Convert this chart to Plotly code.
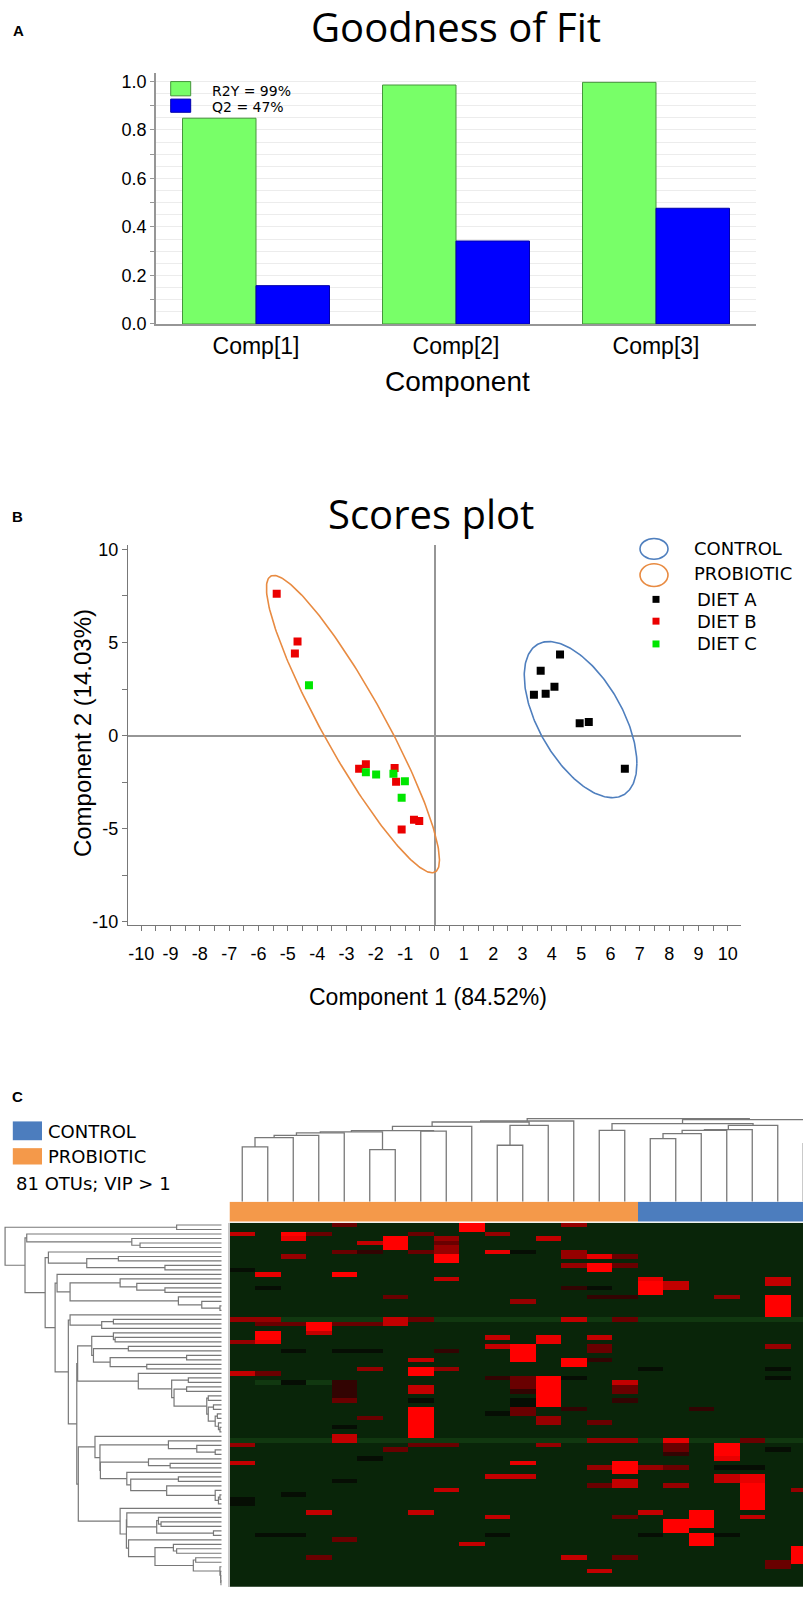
import numpy as np
import plotly.graph_objects as go

W, H = 803, 1597

# ---------------- Panel A : Goodness of fit ----------------
components = ["Comp[1]", "Comp[2]", "Comp[3]"]
r2y_values = [0.848, 0.985, 0.996]
q2_values = [0.158, 0.342, 0.477]
legend_a = ["R2Y = 99%", "Q2 = 47%"]

# ---------------- Panel B : Scores plot ----------------
dietA_x = [3.39, 3.62, 3.79, 4.09, 4.28, 4.95, 5.26, 6.49]
dietA_y = [2.20, 3.48, 2.25, 2.62, 4.36, 0.66, 0.73, -1.78]
dietB_x = [-5.38, -4.67, -4.76, -2.57, -2.34, -1.36, -1.31, -0.70, -0.52, -1.12]
dietB_y = [7.62, 5.05, 4.41, -1.78, -1.54, -1.74, -2.47, -4.52, -4.58, -5.04]
dietC_x = [-4.28, -2.34, -1.99, -1.40, -1.01, -1.12]
dietC_y = [2.71, -1.96, -2.09, -2.05, -2.45, -3.33]
diet_names = ["DIET A", "DIET B", "DIET C"]
group_names = ["CONTROL", "PROBIOTIC"]
ellipse_cx = [4.98, -2.78]
ellipse_cy = [0.86, 0.62]
ellipse_ax = [1.92, 2.95]
ellipse_ay = [4.19, 7.98]
ellipse_phase_deg = [124.3, 156.1]

# ---------------- Panel C : heatmap ----------------
column_groups = [0] * 16 + [1] * 8          # 0 = PROBIOTIC, 1 = CONTROL
n_otus = 81
heat_rows = [
    "4:5 9:9 13:6", "9:9", "0:7 2:9 3:5 7:5 10:6", "2:8 6:9 8:6 12:7", "5:7 6:9 8:5",
    "6:9 8:6", "4:5 5:4 7:5 8:6 10:8 11:3 13:6", "2:6 8:9 13:6 14:8 15:5", "8:9",
    "13:6 14:9 15:5", "0:3 14:9", "1:8 4:9", "8:7 16:8 21:7", "16:9 17:7 21:7",
    "1:3 13:4 14:3 16:9 17:7", "16:9", "6:5 14:4 15:4 19:6 21:9", "11:6 21:9", "21:9",
    "21:9", "21:9", "b 0:6 1:6 6:7 7:5 13:7 15:5", "1:5 2:5 3:9 4:5 5:5 6:7", "3:9",
    "1:9 3:7", "1:9 10:7 12:8 14:7", "0:6 1:8 12:8", "10:7 11:9 14:5 21:6",
    "2:3 4:3 5:3 8:4 11:9 14:5", "11:9", "7:7 11:9 13:9 14:4", "13:9",
    "5:6 7:9 8:6 16:3 21:3", "0:7 1:5 7:9", "10:4 11:5 12:9 13:3 21:3",
    "1:1 2:3 3:1 4:4 11:5 12:9 15:7", "4:4 7:7 11:5 12:9 15:5", "4:4 7:7 11:4 12:9 15:5",
    "4:4 12:9", "4:5 7:3 11:3 12:9 15:4", "11:3 12:9", "7:9 11:5 13:4 18:4",
    "7:9 10:3 11:5", "5:5 7:9 12:6", "7:9 12:6 14:5", "4:3 7:9", "7:9", "4:7 7:9",
    "b 4:7 14:6 15:6 17:8 20:5", "0:6 7:5 8:5 12:6 17:5 19:9", "6:5 17:5 19:9 21:3",
    "17:4 19:9", "5:3 19:8", "0:7 11:8 15:9", "14:6 15:9 16:6 17:5 19:3 20:3", "15:9",
    "10:7 11:7 19:7 20:8", "4:3 15:7 19:7 20:8", "14:5 15:7 17:6 20:9", "8:7 20:9 22:6",
    "2:3 20:9", "0:3 20:9", "0:3 20:9", "20:9", "3:7 7:7 16:7 18:9", "10:7 15:5 18:9 20:7",
    "17:9 18:9", "17:9 18:9", "17:9", "1:3 2:3 10:3 16:3 18:9 19:3", "4:5 18:9", "9:7 18:9",
    "22:9", "22:9", "3:5 13:7 15:5 22:9", "21:5 22:9", "21:5", "14:7", "", "", "",
]

# dendrograms: (distance, left, right), leaves are indices
col_tree = (1.0,
            (0.972,
             (0.96,
              (0.908,
               (0.856,
                (0.84,
                 (0.828, (0.80, (0.772, (0.66, 0, 1), 2), 3), 4),
                 (0.628, 5, 6)),
                (0.85, 7, 8)),
               9),
              (0.92, (0.68, 10, 11), 12)),
             13),
            (0.988,
             (0.94, (0.86, 14, 15),
              (0.92, (0.868, (0.86, (0.82, (0.76, 16, 17), 18), 19), 20), 21)),
             (0.70, 22, 23)))

row_F1 = (0.60, (0.50, 24, (0.492, 25, 26)),
          (0.592, (0.431, 27, 28), (0.515, (0.162, 29, 30), (0.346, 31, 32))))
row_F2 = (0.385, 33, (0.231, (0.154, 34, 35),
                      (0.22, (0.162, 36, 37),
                       (0.069, (0.062, 38, 39),
                        (0.062, (0.038, 40, 41),
                         (0.03, (0.02, 42, 43), (0.015, 44, (0.008, 45, 46))))))))
row_F3 = (0.585, 47, (0.562, (0.246, 48, (0.115, 49, (0.03, 50, 51))),
                      (0.56, (0.338, 52, (0.238, 53, 54)),
                       (0.438, 55, (0.42, (0.2, 56, 57),
                                    (0.254, 58, (0.03, 59, (0.015, (0.008, 60, 61), 62))))))))
row_F4 = (0.469, 63, (0.44, (0.438, 64, (0.30, (0.292, 65, (0.28, 66, 67)), (0.038, 68, 69))),
                      (0.43, 70, (0.308, (0.223, 71, (0.208, 72, 73)),
                                  (0.131, (0.12, 74, 75),
                                   (0.008, 76, (0.005, 77, (0.004, 78, (0.003, 79, 80)))))))))
row_tree = (1.0, (0.208, 0, 1),
            (0.908, (0.90, 2, (0.415, 3, (0.377, 4, 5))),
             (0.815, (0.80, 6, (0.623, (0.477, 7, 8), (0.262, 9, 10))),
              (0.769, (0.76, 11, (0.70, (0.469, 12, (0.392, 13, (0.262, 14, 15))),
                                  (0.20, 16, (0.092, 17, (0.008, 18, 19))))),
               (0.708, (0.70, 20, (0.554, (0.50, 21, 22), 23)),
                (0.669, (0.665, row_F1, row_F2), (0.662, row_F3, row_F4)))))))

# ---------------- helpers ----------------
def xd(a, b):
    return [a / W, b / W]

def yd(top, bottom):
    return [1 - bottom / H, 1 - top / H]

def PX(x):
    return x / W

def PY(y):
    return 1 - y / H

def tree_lines(node):
    pos_list, h_list = [], []
    def rec(n):
        if isinstance(n, int):
            return float(n), 0.0
        d, a, b = n
        pa, ha = rec(a)
        pb, hb = rec(b)
        pos_list.extend([pa, pa, pb, pb, None])
        h_list.extend([ha, d, d, hb, None])
        return (pa + pb) / 2, d
    rec(node)
    return pos_list, h_list

TICK_FONT = "Liberation Sans, Arial, sans-serif"
TITLE_FONT = "Open Sans, sans-serif"
LEG_FONT = "DejaVu Sans, Verdana, sans-serif"

fig = go.Figure()

# ---- Panel A bars
fig.add_trace(go.Bar(x=components, y=r2y_values, name=legend_a[0],
                     marker=dict(color="rgb(120,255,104)", line=dict(color="rgb(70,150,60)", width=1)),
                     xaxis="x", yaxis="y"))
fig.add_trace(go.Bar(x=components, y=q2_values, name=legend_a[1],
                     marker=dict(color="rgb(0,0,255)", line=dict(color="rgb(0,0,170)", width=1)),
                     xaxis="x", yaxis="y"))

# ---- Panel B ellipses and points
ell_colors = ["rgb(79,127,190)", "rgb(232,139,66)"]
t = np.linspace(0, 2 * np.pi, 240)
for i in range(2):
    ph = np.deg2rad(ellipse_phase_deg[i])
    ex = ellipse_cx[i] + ellipse_ax[i] * np.cos(t)
    ey = ellipse_cy[i] + ellipse_ay[i] * np.cos(t + ph)
    fig.add_trace(go.Scatter(x=ex, y=ey, mode="lines", line=dict(color=ell_colors[i], width=1.6),
                             name=group_names[i], xaxis="x2", yaxis="y2"))
diet_colors = ["black", "rgb(235,0,0)", "rgb(0,230,0)"]
for xs, ys, c, nm in [(dietA_x, dietA_y, diet_colors[0], diet_names[0]),
                      (dietB_x, dietB_y, diet_colors[1], diet_names[1]),
                      (dietC_x, dietC_y, diet_colors[2], diet_names[2])]:
    fig.add_trace(go.Scatter(x=xs, y=ys, mode="markers", name=nm,
                             marker=dict(symbol="square", size=8, color=c, line=dict(width=0)),
                             xaxis="x2", yaxis="y2"))

# ---- Panel C heatmap
n_cols = len(column_groups)
z = np.full((n_otus, n_cols), 2.0)
for r, spec in enumerate(heat_rows):
    for tok in spec.split():
        if tok == "b":
            z[r, :] = 1.0
    for tok in spec.split():
        if tok != "b":
            c, v = tok.split(":")
            z[r, int(c)] = float(v)

heat_scale = [
    [0 / 9, "rgb(22,70,22)"], [1 / 9, "rgb(17,56,16)"], [2 / 9, "rgb(9,37,9)"],
    [3 / 9, "rgb(6,14,4)"], [4 / 9, "rgb(50,4,2)"], [5 / 9, "rgb(105,0,0)"],
    [6 / 9, "rgb(150,0,0)"], [7 / 9, "rgb(195,0,0)"], [8 / 9, "rgb(232,0,0)"],
    [9 / 9, "rgb(255,0,0)"],
]
fig.add_trace(go.Heatmap(z=z, x=list(range(n_cols)), y=list(range(n_otus)), zmin=0, zmax=9,
                         colorscale=heat_scale, showscale=False, xaxis="x3", yaxis="y3"))
fig.add_trace(go.Heatmap(z=[column_groups], x=list(range(n_cols)), y=[0], zmin=0, zmax=1,
                         colorscale=[[0, "rgb(244,153,74)"], [1, "rgb(76,125,190)"]],
                         showscale=False, xaxis="x3", yaxis="y4"))

cx_, cy_ = tree_lines(col_tree)
fig.add_trace(go.Scatter(x=cx_, y=cy_, mode="lines", line=dict(color="rgb(120,120,120)", width=1.3),
                         xaxis="x3", yaxis="y5", hoverinfo="skip"))
ry_, rx_ = tree_lines(row_tree)
fig.add_trace(go.Scatter(x=rx_, y=ry_, mode="lines", line=dict(color="rgb(120,120,120)", width=1.2),
                         xaxis="x4", yaxis="y3", hoverinfo="skip"))

# ---------------- layout ----------------
a_ticks = [round(0.1 * i, 2) for i in range(11)]
a_text = ["%.1f" % v if i % 2 == 0 else "" for i, v in enumerate(a_ticks)]
b_xticks = [v / 2 for v in range(-20, 21)]
b_xtext = [str(int(v)) if v == int(v) else "" for v in b_xticks]
b_yticks = [-10, -7.5, -5, -2.5, 0, 2.5, 5, 7.5, 10]
b_ytext = ["-10", "", "-5", "", "0", "", "5", "", "10"]

fig.update_layout(
    width=W, height=H, margin=dict(l=0, r=0, t=0, b=0),
    paper_bgcolor="white", plot_bgcolor="white", showlegend=False,
    barmode="group", bargap=0.265, bargroupgap=0,
    xaxis=dict(domain=xd(156, 756), anchor="y", type="category", range=[-0.5, 2.5],
               showline=True, linecolor="rgb(150,150,150)", linewidth=1.5, ticks="",
               tickfont=dict(family=TICK_FONT, size=23, color="black"), ticklabelstandoff=1,
               showgrid=False, fixedrange=True),
    yaxis=dict(domain=yd(69, 322), anchor="x", range=[0, 1.033], tickvals=a_ticks, ticktext=a_text,
               showline=True, linecolor="rgb(150,150,150)", linewidth=1.5, ticks="outside",
               ticklen=4, tickcolor="rgb(150,150,150)",
               tickfont=dict(family=TICK_FONT, size=18, color="black"),
               showgrid=True, gridcolor="rgb(236,236,236)", gridwidth=1, zeroline=False,
               minor=dict(tickvals=[round(0.05 + 0.1 * i, 3) for i in range(10)], showgrid=True,
                          gridcolor="rgb(236,236,236)", ticks="")),
    xaxis2=dict(domain=xd(128, 741), anchor="y2", range=[-10.45, 10.45], tickvals=b_xticks,
                ticktext=b_xtext, ticks="outside", ticklen=5, tickcolor="rgb(120,120,120)",
                showline=True, linecolor="rgb(120,120,120)", linewidth=1.3,
                tickfont=dict(family=TICK_FONT, size=18, color="black"), ticklabelstandoff=7,
                showgrid=False, zeroline=True, zerolinecolor="rgb(150,150,150)", zerolinewidth=1.5),
    yaxis2=dict(domain=yd(545, 929), anchor="x2", range=[-10.18, 10.24], tickvals=b_yticks,
                ticktext=b_ytext, ticks="outside", ticklen=5, tickcolor="rgb(120,120,120)",
                showline=True, linecolor="rgb(120,120,120)", linewidth=1.3,
                tickfont=dict(family=TICK_FONT, size=18, color="black"),
                showgrid=False, zeroline=True, zerolinecolor="rgb(150,150,150)", zerolinewidth=1.5),
    xaxis3=dict(domain=xd(229.5, 803), anchor="y3", range=[-0.5, 21.99], visible=False),
    yaxis3=dict(domain=yd(1229.3, 1597), anchor="x3", range=[80.5, -0.5], showticklabels=False,
                ticks="", showgrid=False, zeroline=False, showline=True,
                linecolor="rgb(200,200,200)", linewidth=2),
    yaxis4=dict(domain=yd(1208, 1228.3), anchor="x3", range=[-0.5, 0.5], visible=False),
    yaxis5=dict(domain=yd(1123, 1208), anchor="x3", range=[0, 1.015], visible=False),
    xaxis4=dict(domain=xd(4, 221.7), anchor="y3", range=[1.005, 0], visible=False),
)

ann = []
def text(x, y, s, size, family=TICK_FONT, xanchor="center", yanchor="middle", bold=False, angle=0):
    ann.append(dict(x=PX(x), y=PY(y), xref="paper", yref="paper", text=("<b>%s</b>" % s) if bold else s,
                    showarrow=False, xanchor=xanchor, yanchor=yanchor, textangle=angle,
                    font=dict(family=family, size=size, color="black")))

text(18, 26, "A", 15, family="Liberation Sans, Arial", bold=True)
text(456, 22, "Goodness of Fit", 40, family=TITLE_FONT)
text(458, 380, "Component", 28)
text(210, 86.7, legend_a[0], 14, family=LEG_FONT, xanchor="left")
text(210, 103, legend_a[1], 14, family=LEG_FONT, xanchor="left")

text(17, 516, "B", 15, family="Liberation Sans, Arial", bold=True)
text(431, 513, "Scores plot", 40, family=TITLE_FONT)
text(428, 1001, "Component 1 (84.52%)", 23)
text(82, 735, "Component 2 (14.03%)", 24, angle=-90)
text(692, 549, group_names[0], 18, family=LEG_FONT, xanchor="left")
text(692, 574, group_names[1], 18, family=LEG_FONT, xanchor="left")
for i, yy in enumerate([600, 622, 645]):
    text(695, yy, diet_names[i], 18, family=LEG_FONT, xanchor="left")

text(17, 1102, "C", 15, family="Liberation Sans, Arial", bold=True)
text(46, 1137, group_names[0], 18, family=LEG_FONT, xanchor="left")
text(46, 1162, group_names[1], 18, family=LEG_FONT, xanchor="left")
text(14, 1190, "%d OTUs; VIP &gt; 1" % n_otus, 18, family=LEG_FONT, xanchor="left")

shapes = []
def rect(x0, y0, x1, y1, fill, line=None, lw=0):
    shapes.append(dict(type="rect", xref="paper", yref="paper", x0=PX(x0), x1=PX(x1), y0=PY(y1), y1=PY(y0),
                       fillcolor=fill, line=dict(color=line or fill, width=lw)))

def oval(x0, y0, x1, y1, color):
    shapes.append(dict(type="circle", xref="paper", yref="paper", x0=PX(x0), x1=PX(x1), y0=PY(y1), y1=PY(y0),
                       line=dict(color=color, width=1.6), fillcolor="rgba(0,0,0,0)"))

rect(170.7, 77.3, 190.7, 91.7, "rgb(120,255,104)", "rgb(70,150,60)", 1)
rect(170.7, 95, 190.7, 108.3, "rgb(0,0,255)", "rgb(0,0,170)", 1)
oval(640, 538.5, 668, 559.5, ell_colors[0])
oval(640, 564, 668, 587, ell_colors[1])
for i, yy in enumerate([600, 622, 645]):
    rect(652.5, yy - 3.5, 659.5, yy + 3.5, diet_colors[i])
rect(12.8, 1127, 42, 1146, "rgb(76,125,190)")
rect(12.8, 1154, 42, 1170.5, "rgb(244,153,74)")

fig.update_layout(annotations=ann, shapes=shapes)
fig.write_html("out.html", config={"displayModeBar": False},
               post_script="document.body.style.margin='0';document.body.style.padding='0';"
                           "document.documentElement.style.overflow='hidden';"
                           "document.body.style.overflow='hidden';")
